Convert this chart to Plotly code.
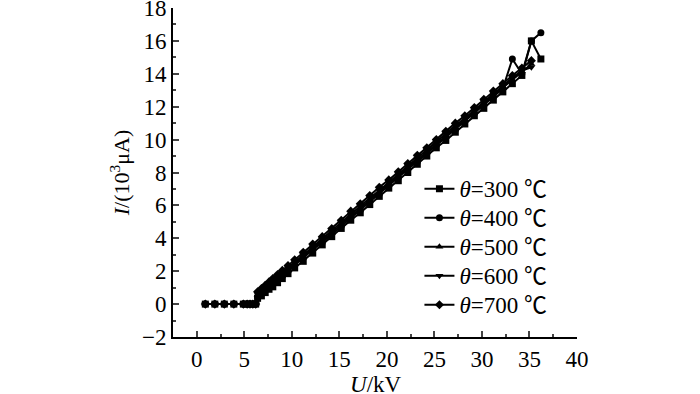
import plotly.graph_objects as go

x_common = [0.9, 1.9, 2.9, 3.9, 4.9, 5.3, 5.6, 5.9, 6.2, 6.4, 6.8, 7.2, 7.6, 8.0, 8.5, 9.0, 9.6,
            10.3, 11.2, 12.2, 13.2, 14.2, 15.2, 16.2, 17.2, 18.2, 19.2, 20.2, 21.2, 22.2, 23.2,
            24.2, 25.2, 26.2, 27.2, 28.2, 29.2, 30.2, 31.2, 32.2, 33.2, 34.2, 35.2, 36.2]

y_300 = [0, 0, 0, 0, 0, 0, 0, 0, 0, 0.35, 0.5, 0.7, 0.9, 1.05, 1.3, 1.55, 1.85,
         2.2, 2.6, 3.1, 3.6, 4.1, 4.6, 5.1, 5.55, 6.05, 6.55, 7.05, 7.5, 8.0, 8.5,
         9.0, 9.5, 9.95, 10.45, 10.95, 11.45, 11.9, 12.4, 12.9, 13.4, 13.9, 16.0, 14.9]
y_400 = [0, 0, 0, 0, 0, 0, 0, 0, 0, 0.45, 0.65, 0.85, 1.05, 1.2, 1.45, 1.7, 2.0,
         2.35, 2.8, 3.3, 3.75, 4.25, 4.75, 5.25, 5.7, 6.2, 6.7, 7.2, 7.7, 8.2, 8.65,
         9.15, 9.65, 10.15, 10.6, 11.1, 11.6, 12.1, 12.6, 13.1, 14.9, 14.0, 16.0, 16.5]
y_500 = [0, 0, 0, 0, 0, 0, 0, 0, 0, 0.55, 0.75, 0.95, 1.1, 1.3, 1.55, 1.8, 2.1,
         2.45, 2.9, 3.4, 3.85, 4.35, 4.85, 5.35, 5.85, 6.3, 6.8, 7.3, 7.8, 8.3, 8.75,
         9.25, 9.75, 10.25, 10.75, 11.2, 11.7, 12.2, 12.7, 13.15, 13.65, 14.15, 14.6]
y_600 = [0, 0, 0, 0, 0, 0, 0, 0, 0, 0.6, 0.8, 1.0, 1.2, 1.4, 1.65, 1.9, 2.2,
         2.55, 3.0, 3.5, 3.95, 4.45, 4.95, 5.45, 5.95, 6.45, 6.9, 7.4, 7.9, 8.4, 8.85,
         9.35, 9.85, 10.35, 10.85, 11.3, 11.8, 12.3, 12.8, 13.25, 13.75, 14.2, 14.4]
y_700 = [0, 0, 0, 0, 0, 0, 0, 0, 0, 0.75, 0.95, 1.15, 1.35, 1.55, 1.8, 2.05, 2.35,
         2.7, 3.15, 3.65, 4.1, 4.6, 5.1, 5.65, 6.1, 6.6, 7.1, 7.55, 8.05, 8.55, 9.05,
         9.5, 10.0, 10.5, 11.0, 11.45, 11.95, 12.45, 12.95, 13.4, 13.9, 14.35, 14.8]

temps = ["300", "400", "500", "600", "700"]
series_y = [y_300, y_400, y_500, y_600, y_700]
symbols = ["square", "circle", "triangle-up", "triangle-down", "diamond"]

x_ticks = [0, 5, 10, 15, 20, 25, 30, 35, 40]
y_ticks = [-2, 0, 2, 4, 6, 8, 10, 12, 14, 16, 18]

fig = go.Figure()
for t, ys, sym in zip(temps, series_y, symbols):
    xs = x_common[:len(ys)]
    name = '<span style="font-size:23px"><i>θ</i>=' + t + ' ℃</span>'
    fig.add_trace(go.Scatter(
        x=xs, y=ys, mode="lines+markers", name=name,
        line=dict(color="black", width=2),
        marker=dict(symbol=sym, size=7, color="black"),
    ))

font_family = "Liberation Serif, Noto Sans CJK SC, serif"
fig.update_layout(
    width=700, height=394,
    margin=dict(l=173, r=123, t=8, b=57),
    paper_bgcolor="white", plot_bgcolor="white",
    font=dict(family=font_family, size=23, color="black"),
    showlegend=True,
    legend=dict(x=0.61, y=0.51, xanchor="left", yanchor="top",
                bgcolor="rgba(0,0,0,0)", font=dict(size=20, family=font_family),
                itemwidth=30, tracegroupgap=0),
    annotations=[dict(text="<i>U</i>/kV", xref="paper", yref="paper", x=0.502, y=-0.143,
                      xanchor="center", yanchor="middle", showarrow=False,
                      font=dict(size=23, family=font_family))],
)
fig.update_xaxes(
    range=[-2.5, 40], tickvals=x_ticks, ticks="inside", ticklen=6, tickwidth=1.5,
    showline=True, linecolor="black", linewidth=2, showgrid=False, zeroline=False,
    minor=dict(ticks="inside", ticklen=3, tickwidth=1.5, dtick=2.5, tick0=0, showgrid=False),
    tickfont=dict(size=23), ticklabeloverflow="allow", automargin=False,
)
fig.update_yaxes(
    range=[-2, 18], tickvals=y_ticks, ticks="inside", ticklen=6, tickwidth=1.5,
    showline=True, linecolor="black", linewidth=2, showgrid=False, zeroline=False,
    minor=dict(ticks="inside", ticklen=3, tickwidth=1.5, dtick=1, tick0=0, showgrid=False),
    title=dict(text="<i>I</i>/(10<sup>3</sup>μA)", font=dict(size=22), standoff=6),
    tickfont=dict(size=23), ticklabeloverflow="allow", automargin=False,
)
fig.write_html("out.html", config={"displayModeBar": False},
               post_script="document.body.style.margin='0';document.body.style.overflow='hidden';")
